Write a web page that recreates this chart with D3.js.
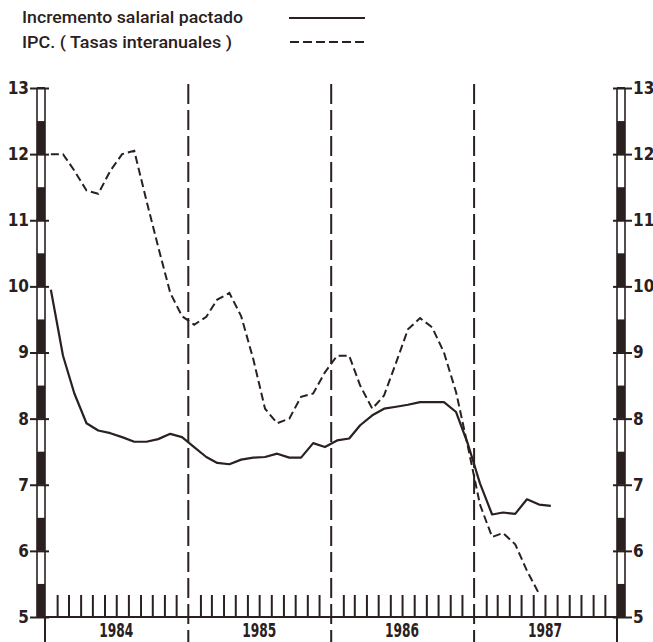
<!DOCTYPE html>
<html><head><meta charset="utf-8">
<script src="https://cdn.jsdelivr.net/npm/d3@7"></script>
<style>html,body{margin:0;padding:0;background:#fff}</style>
</head><body>
<svg id="c" width="653" height="642"></svg>
<script>
// ---- data ----
const legendLabels = ["Incremento salarial pactado", "IPC. ( Tasas interanuales )"];
const yearLabels = ["1984", "1985", "1986", "1987"];
const yTicks = [5, 6, 7, 8, 9, 10, 11, 12, 13];
// monthly values from Jan 1984
const salario = [9.95, 8.95, 8.38, 7.93, 7.82, 7.78, 7.72, 7.65, 7.65, 7.69, 7.77, 7.72,
                 7.57, 7.42, 7.33, 7.31, 7.38, 7.41, 7.42, 7.47, 7.41, 7.41, 7.63, 7.57,
                 7.67, 7.70, 7.90, 8.05, 8.15, 8.18, 8.21, 8.25, 8.25, 8.25, 8.10, 7.62,
                 7.02, 6.55, 6.58, 6.56, 6.78, 6.70, 6.68];
const ipc = [12.0, 12.0, 11.75, 11.45, 11.40, 11.75, 12.0, 12.05, 11.3, 10.6, 9.9, 9.55,
             9.42, 9.54, 9.80, 9.90, 9.55, 8.90, 8.15, 7.93, 8.00, 8.33, 8.38, 8.70,
             8.95, 8.95, 8.50, 8.15, 8.35, 8.85, 9.35, 9.52, 9.38, 9.00, 8.40, 7.58,
             6.70, 6.21, 6.27, 6.10, 5.70, 5.35];

const ink = "#2a2020";
const svg = d3.select("#c");
const x = d3.scaleTime().domain([new Date(1984, 0, 1), new Date(1988, 0, 1)]).range([45, 617]);
const y = d3.scaleLinear().domain([5, 13]).range([617, 88]);
const numFont = "'Liberation Sans Narrow','DejaVu Sans Condensed',sans-serif";

// legend
const leg = svg.append("g").attr("font-family", "Roboto, 'DejaVu Sans', sans-serif")
  .attr("font-weight", 500).attr("font-size", 16).attr("fill", ink);
leg.append("text").attr("x", 22).attr("y", 23).attr("textLength", 221).attr("lengthAdjust", "spacingAndGlyphs").text(legendLabels[0]);
leg.append("text").attr("x", 22).attr("y", 48).attr("textLength", 210).attr("lengthAdjust", "spacingAndGlyphs").text(legendLabels[1]);
svg.append("line").attr("x1", 289).attr("x2", 365).attr("y1", 18).attr("y2", 18).attr("stroke", ink).attr("stroke-width", 2);
svg.append("line").attr("x1", 290).attr("x2", 368).attr("y1", 42).attr("y2", 42).attr("stroke", ink).attr("stroke-width", 2).attr("stroke-dasharray", "9,4");

// monthly ticks along the bottom
const monthTicks = d3.timeMonth.range(new Date(1984, 1, 1), new Date(1988, 0, 1)).filter(d => d.getMonth() !== 0);
const xMinor = svg.append("g").attr("transform", "translate(0,617)")
  .call(d3.axisTop(x).tickValues(monthTicks).tickSize(22).tickFormat(""));
xMinor.select(".domain").remove();
xMinor.selectAll(".tick line").attr("stroke", ink).attr("stroke-width", 2);

// x baseline
svg.append("line").attr("x1", 45).attr("x2", 617).attr("y1", y(5)).attr("y2", y(5)).attr("stroke", ink).attr("stroke-width", 2);

// year dividers
const yearStarts = d3.timeYear.range(new Date(1985, 0, 1), new Date(1988, 0, 1));
svg.append("g").selectAll("line").data(yearStarts).join("line")
  .attr("x1", d => x(d)).attr("x2", d => x(d)).attr("y1", 84).attr("y2", 642)
  .attr("stroke", ink).attr("stroke-width", 2).attr("stroke-dasharray", "20,6");

// year labels
svg.append("g").selectAll("text").data(yearLabels).join("text")
  .attr("x", d => x(new Date(+d, 6, 1))).attr("y", 637).attr("text-anchor", "middle")
  .attr("font-family", numFont).attr("font-weight", "bold").attr("font-size", 19)
  .attr("textLength", 34).attr("lengthAdjust", "spacingAndGlyphs").attr("fill", ink).text(d => d);

// scale bars (left and right)
function bar(x0) {
  const g = svg.append("g");
  const halves = yTicks.slice(0, -1);
  g.selectAll("rect").data(halves).join("rect")
    .attr("x", x0).attr("width", 8).attr("y", d => y(d + 0.5)).attr("height", d => y(d) - y(d + 0.5))
    .attr("fill", ink);
  g.append("line").attr("x1", x0).attr("x2", x0).attr("y1", y(13)).attr("y2", y(5)).attr("stroke", ink).attr("stroke-width", 1.6);
  g.append("line").attr("x1", x0 + 8).attr("x2", x0 + 8).attr("y1", y(13)).attr("y2", y(5)).attr("stroke", ink).attr("stroke-width", 1.6);
  g.append("line").attr("x1", x0).attr("x2", x0 + 8).attr("y1", y(13)).attr("y2", y(13)).attr("stroke", ink).attr("stroke-width", 2);
}
bar(37);
bar(617);
svg.append("line").attr("x1", 45).attr("x2", 45).attr("y1", y(5)).attr("y2", 642).attr("stroke", ink).attr("stroke-width", 2);
svg.append("line").attr("x1", 617).attr("x2", 617).attr("y1", y(5)).attr("y2", 642).attr("stroke", ink).attr("stroke-width", 2);

// left axis
const yl = svg.append("g").attr("transform", "translate(49,0)")
  .call(d3.axisLeft(y).tickValues(yTicks).tickSize(19).tickPadding(1).tickFormat(d3.format("d")));
yl.select(".domain").remove();
yl.selectAll(".tick line").attr("stroke", ink).attr("stroke-width", 2);
yl.selectAll(".tick text").attr("font-family", numFont).attr("font-weight", "bold").attr("font-size", 17).attr("fill", ink);

// right axis
const yr = svg.append("g").attr("transform", "translate(613,0)")
  .call(d3.axisRight(y).tickValues(yTicks).tickSize(19).tickPadding(1).tickFormat(d3.format("d")));
yr.select(".domain").remove();
yr.selectAll(".tick line").attr("stroke", ink).attr("stroke-width", 2);
yr.selectAll(".tick text").attr("font-family", numFont).attr("font-weight", "bold").attr("font-size", 17).attr("fill", ink);

// series
const toPts = arr => arr.map((v, i) => ({ date: new Date(1984, i, 16), v }));
const line = d3.line().x(d => x(d.date)).y(d => y(d.v));
svg.append("path").datum(toPts(salario)).attr("d", line).attr("fill", "none")
  .attr("stroke", ink).attr("stroke-width", 2.2).attr("stroke-linejoin", "round");
svg.append("path").datum(toPts(ipc)).attr("d", line).attr("fill", "none")
  .attr("stroke", ink).attr("stroke-width", 2).attr("stroke-dasharray", "8,4");
</script>
</body></html>
